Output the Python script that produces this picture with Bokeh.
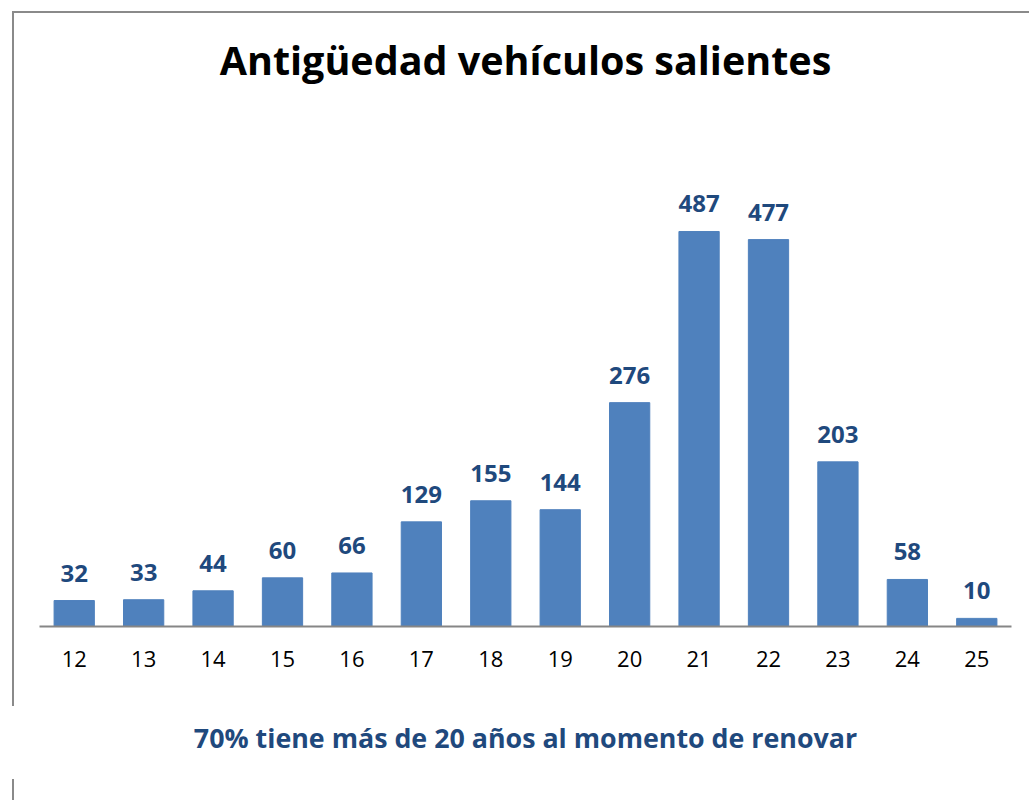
from bokeh.plotting import figure
from bokeh.models import ColumnDataSource, LabelSet, Title, FactorRange, Range1d
from bokeh.core.properties import value
from bokeh.embed import file_html
from bokeh.resources import INLINE

categories = ["12", "13", "14", "15", "16", "17", "18", "19", "20", "21", "22", "23", "24", "25"]
values = [32, 33, 44, 60, 66, 129, 155, 144, 276, 487, 477, 203, 58, 10]
title_text = "Antigüedad vehículos salientes"
subtitle_text = "70% tiene más de 20 años al momento de renovar"

BAR = "#4F81BD"
LBL = "#1F497D"
FONT = "Open Sans"

src = ColumnDataSource(dict(cat=categories, val=values, txt=[str(v) for v in values]))

p = figure(x_range=FactorRange(*categories, range_padding=0), y_range=Range1d(0, 648.5),
           width=1017, height=789, output_backend="svg", toolbar_location=None,
           min_border_left=25, min_border_right=20, min_border_top=87, min_border_bottom=176)
p.margin = (11, 0, 0, 12)
p.styles = {
    "border-top": "2px solid transparent",
    "border-left": "2px solid transparent",
    "background-color": "#ffffff",
    "background-image": "linear-gradient(#8a8a8a, #8a8a8a), linear-gradient(to bottom, #8a8a8a 0px, #8a8a8a 695px, #ffffff 695px, #ffffff 768px, #8a8a8a 768px)",
    "background-size": "100% 2px, 2px 100%",
    "background-position": "0 0, 0 0",
    "background-repeat": "no-repeat",
    "background-origin": "border-box",
    "background-clip": "border-box",
}
p.outline_line_color = None
p.background_fill_color = "white"
p.border_fill_color = "white"
p.grid.visible = False
p.yaxis.visible = False

p.vbar(x="cat", top="val", width=0.58, source=src, fill_color=BAR, line_color=BAR)

p.xaxis.axis_line_color = "#868686"
p.xaxis.axis_line_width = 2
p.xaxis.major_tick_line_color = None
p.xaxis.minor_tick_line_color = None
p.xaxis.major_label_text_font = FONT
p.xaxis.major_label_text_font_size = "22px"
p.xaxis.major_label_text_color = "black"
p.xaxis.major_label_standoff = 18

labels = LabelSet(x="cat", y="val", text="txt", source=src, text_align="center",
                  text_baseline="alphabetic", y_offset=19, text_font=value(FONT),
                  text_font_style="bold", text_font_size="24px", text_color=LBL)
p.add_layout(labels)

p.add_layout(Title(text=title_text, align="center", text_font=FONT, text_font_style="bold",
                   text_font_size="39.5px", text_color="black", standoff=27), "above")
p.add_layout(Title(text=subtitle_text, align="center", text_font=FONT, text_font_style="bold",
                   text_font_size="26.8px", text_color=LBL, standoff=94), "below")

open("out.html", "w").write(file_html(p, INLINE))
